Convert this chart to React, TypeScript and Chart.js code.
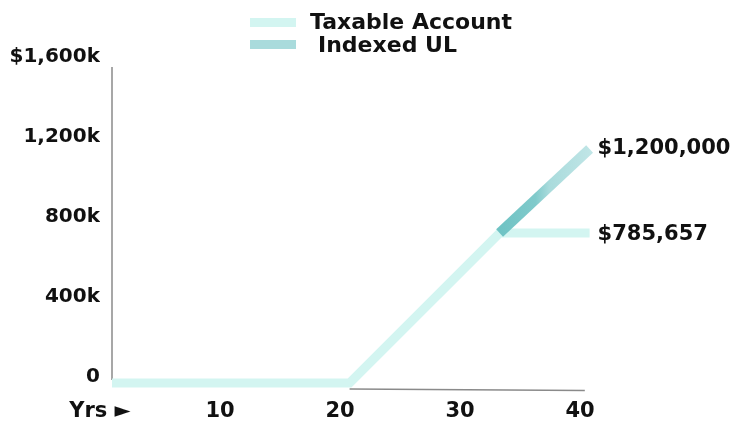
import React, { useEffect, useRef } from "react";
import { Chart, registerables } from "chart.js";
Chart.register(...registerables);

const taxableYears = [1, 20.8, 33.3, 40.8];
const taxableValues = [-30000, -30000, 720000, 720000];
const indexedYears = [33.3, 40.8];
const indexedValues = [720000, 1140000];
const xTicks = [0, 10, 20, 30, 40];
const xTickLabels = ["Yrs ►", "10", "20", "30", "40"];
const yTicks = [0, 400000, 800000, 1200000, 1600000];
const yTickLabels = ["0", "400k", "800k", "1,200k", "$1,600k"];
const seriesNames = ["Taxable Account", "Indexed UL"];
const endLabels = ["$785,657", "$1,200,000"];

const TAXABLE_COLOR = "#d3f5f1";
const FONT = "'DejaVu Sans', sans-serif";

const decor = {
  id: "decor",
  beforeDatasetsDraw(chart: any) {
    const { ctx, scales } = chart;
    const xs = scales.x;
    const ys = scales.y;
    ctx.save();
    ctx.strokeStyle = "#8a8a8a";
    ctx.lineWidth = 1.5;
    ctx.beginPath();
    ctx.moveTo(xs.getPixelForValue(1), ys.getPixelForValue(1550000));
    ctx.lineTo(xs.getPixelForValue(1), ys.getPixelForValue(-15000));
    ctx.stroke();
    ctx.beginPath();
    ctx.moveTo(xs.getPixelForValue(20.8), ys.getPixelForValue(-60000));
    ctx.lineTo(xs.getPixelForValue(40.4), ys.getPixelForValue(-68000));
    ctx.stroke();
    ctx.restore();
  },
  afterDatasetsDraw(chart: any) {
    const { ctx, scales } = chart;
    const xs = scales.x;
    const ys = scales.y;
    ctx.save();
    ctx.fillStyle = "#111";
    ctx.textBaseline = "middle";
    ctx.textAlign = "left";
    ctx.font = `bold 21px ${FONT}`;
    const t = taxableYears.length - 1;
    ctx.fillText(endLabels[0], xs.getPixelForValue(taxableYears[t]) + 8, ys.getPixelForValue(taxableValues[t]) + 2);
    const i = indexedYears.length - 1;
    ctx.fillText(endLabels[1], xs.getPixelForValue(indexedYears[i]) + 8, ys.getPixelForValue(indexedValues[i]));
    ctx.font = `bold 22px ${FONT}`;
    ctx.fillStyle = TAXABLE_COLOR;
    ctx.fillRect(250, 18, 46, 9);
    ctx.fillStyle = "#a9dbdc";
    ctx.fillRect(250, 40, 46, 9);
    ctx.fillStyle = "#111";
    ctx.fillText(seriesNames[0], 310, 23);
    ctx.fillText(seriesNames[1], 318, 46);
    ctx.restore();
  },
};

export default function App() {
  const ref = useRef<HTMLCanvasElement>(null);
  useEffect(() => {
    if (!ref.current) return;
    const chart = new Chart(ref.current, {
      type: "line",
      data: {
        datasets: [
          {
            label: seriesNames[0],
            data: taxableYears.map((x, k) => ({ x, y: taxableValues[k] })),
            borderColor: TAXABLE_COLOR,
            borderWidth: 9,
            pointRadius: 0,
            tension: 0,
            borderCapStyle: "butt",
            borderJoinStyle: "miter",
            order: 2,
          },
          {
            label: seriesNames[1],
            data: indexedYears.map((x, k) => ({ x, y: indexedValues[k] })),
            borderColor: (c: any) => {
              const ch = c.chart;
              if (!ch.chartArea) return "#8fd0d0";
              const xs = ch.scales.x;
              const g = ch.ctx.createLinearGradient(
                xs.getPixelForValue(indexedYears[0]), 0,
                xs.getPixelForValue(indexedYears[indexedYears.length - 1]), 0
              );
              g.addColorStop(0, "#6fc3c4");
              g.addColorStop(0.4, "#80cacb");
              g.addColorStop(0.55, "#a9dbdc");
              g.addColorStop(1, "#bfe5e6");
              return g;
            },
            borderWidth: 10,
            pointRadius: 0,
            tension: 0,
            borderCapStyle: "butt",
            order: 1,
          },
        ],
      },
      options: {
        responsive: false,
        animation: false,
        layout: { padding: { top: 57, right: 137, bottom: 0, left: 0 } },
        plugins: { legend: { display: false }, tooltip: { enabled: false } },
        scales: {
          x: {
            type: "linear",
            min: 0,
            max: 41.5,
            grid: { display: false, drawTicks: false },
            border: { display: false },
            afterBuildTicks: (s: any) => {
              s.ticks = xTicks.map((v) => ({ value: v }));
            },
            afterFit: (s: any) => {
              s.height = 26;
            },
            ticks: {
              color: "#111",
              padding: 2,
              maxRotation: 0,
              autoSkip: false,
              font: { family: FONT, size: 21, weight: "bold" },
              callback: (v: any) => {
                const idx = xTicks.indexOf(Number(v));
                return idx >= 0 ? xTickLabels[idx] : "";
              },
            },
          },
          y: {
            type: "linear",
            min: -100000,
            max: 1600000,
            grid: { display: false, drawTicks: false },
            border: { display: false },
            afterBuildTicks: (s: any) => {
              s.ticks = yTicks.map((v) => ({ value: v }));
            },
            afterFit: (s: any) => {
              s.width = 100;
            },
            ticks: {
              color: "#111",
              padding: 0,
              autoSkip: false,
              font: { family: FONT, size: 20, weight: "bold" },
              callback: (v: any) => {
                const idx = yTicks.indexOf(Number(v));
                return idx >= 0 ? yTickLabels[idx] : "";
              },
            },
          },
        },
      },
      plugins: [decor],
    });
    return () => chart.destroy();
  }, []);
  return (
    <div style={{ position: "fixed", left: 0, top: 0, width: 735, height: 423, background: "#fff" }}>
      <canvas ref={ref} width={735} height={423} />
    </div>
  );
}
